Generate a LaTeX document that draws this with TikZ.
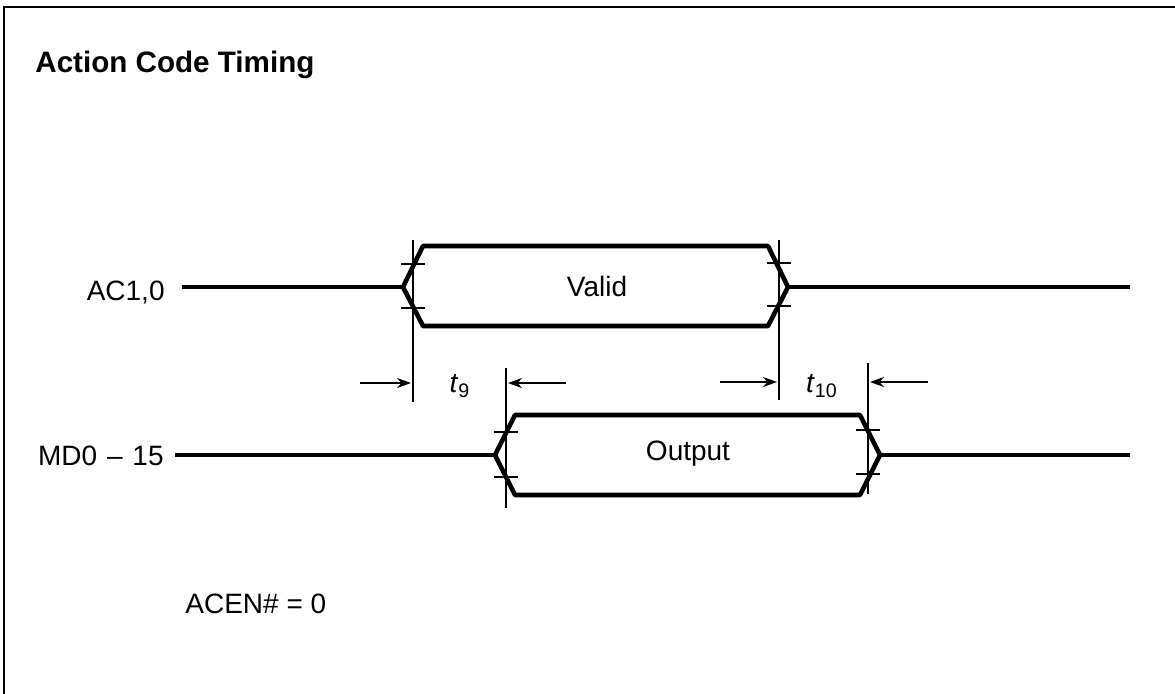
\documentclass[tikz,border=0pt]{standalone}
\usepackage{fontspec}
\setmainfont{Liberation Sans}
\usetikzlibrary{arrows.meta}
\begin{document}
\begin{tikzpicture}[x=0.5pt,y=-0.5pt,
  sig/.style={line width=2.3pt,line join=round},
  refline/.style={line width=0.9pt},
  tickline/.style={line width=0.9pt},
  dimarrow/.style={line width=0.9pt,-{Stealth[length=7pt,width=5pt]}},
  lbl/.style={inner sep=0pt,font=\fontsize{14}{16}\selectfont},
  frameline/.style={line width=1.2pt}]
\useasboundingbox (0,0) rectangle (1175,693);
% frame (top and left edges visible)
\coordinate (f1) at (4,700);
\coordinate (f2) at (4,7);
\coordinate (f3) at (1180,7);
\draw[frameline] (f1) -- (f2) -- (f3);
% title
\node[lbl,anchor=base west,font=\fontsize{14.8}{16}\selectfont\bfseries] (title) at (35,72) {Action Code Timing};
% AC1,0 signal
\node[lbl,anchor=base east] (ac) at (165,300) {AC1,0};
\coordinate (acs) at (182,287);
\coordinate (acL) at (403,287);
\coordinate (acTL) at (423,246);
\coordinate (acTR) at (768,246);
\coordinate (acR) at (788,287);
\coordinate (acBR) at (768,326);
\coordinate (acBL) at (423,326);
\coordinate (ace) at (1130,287);
\draw[sig] (acs) -- (acL);
\draw[sig] (acR) -- (ace);
\draw[sig] (acL) -- (acTL) -- (acTR) -- (acR) -- (acBR) -- (acBL) -- cycle;
\node[lbl] (valid) at (597,286) {Valid};
% MD0-15 signal
\node[lbl,anchor=base east] (md) at (164,465) {MD0\hspace{0.35em}--\hspace{0.35em}15};
\coordinate (mds) at (175,455);
\coordinate (mdL) at (495,455);
\coordinate (mdTL) at (515,415);
\coordinate (mdTR) at (860,415);
\coordinate (mdR) at (880,455);
\coordinate (mdBR) at (860,495);
\coordinate (mdBL) at (515,495);
\coordinate (mde) at (1130,455);
\draw[sig] (mds) -- (mdL);
\draw[sig] (mdR) -- (mde);
\draw[sig] (mdL) -- (mdTL) -- (mdTR) -- (mdR) -- (mdBR) -- (mdBL) -- cycle;
\node[lbl] (output) at (688,454) {Output};
% reference verticals
\coordinate (v1t) at (413,240); \coordinate (v1b) at (413,402);
\coordinate (v2t) at (779,240); \coordinate (v2b) at (779,400);
\coordinate (v3t) at (506,368); \coordinate (v3b) at (506,508);
\coordinate (v4t) at (868,363); \coordinate (v4b) at (868,494);
\draw[refline] (v1t) -- (v1b);
\draw[refline] (v2t) -- (v2b);
\draw[refline] (v3t) -- (v3b);
\draw[refline] (v4t) -- (v4b);
% ticks
\foreach \x/\y/\n in {413/264/a,413/308/b,779/263/c,779/306/d,506/432/e,506/477/f,868/430/g,868/474/h}{
  \coordinate (t\n l) at (\x-12,\y); \coordinate (t\n r) at (\x+12,\y);
  \draw[tickline] (t\n l) -- (t\n r);
}
% dimension arrows
\coordinate (a1s) at (360,383); \coordinate (a1e) at (411,383);
\coordinate (a2s) at (566,383); \coordinate (a2e) at (508,383);
\coordinate (a3s) at (720,382); \coordinate (a3e) at (777,382);
\coordinate (a4s) at (928,382); \coordinate (a4e) at (870,382);
\draw[dimarrow] (a1s) -- (a1e);
\draw[dimarrow] (a2s) -- (a2e);
\draw[dimarrow] (a3s) -- (a3e);
\draw[dimarrow] (a4s) -- (a4e);
\node[lbl] (t9) at (460,386) {\textit{t}\textsubscript{9}};
\node[lbl] (t10) at (822,386) {\textit{t}\textsubscript{10}};
% condition
\node[lbl,anchor=base west] (acen) at (185,613) {ACEN\# = 0};
\end{tikzpicture}
\end{document}
